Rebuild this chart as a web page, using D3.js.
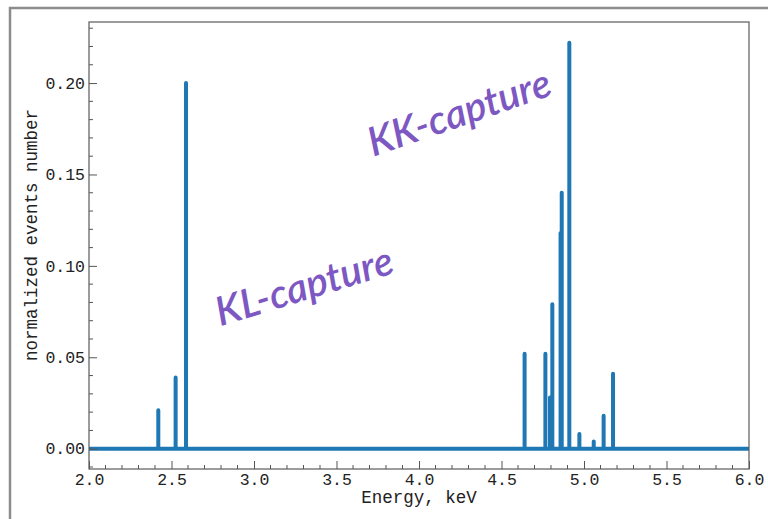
<!DOCTYPE html>
<html><head><meta charset="utf-8">
<script src="https://cdn.jsdelivr.net/npm/d3@7"></script>
<style>body{margin:0;background:#fff} svg{display:block}</style>
</head><body>
<svg id="c" width="768" height="519"></svg>
<script>
// ---- data ----
const peakEnergies = [2.420, 2.525, 2.588, 4.640, 4.766, 4.794, 4.808, 4.858, 4.865, 4.911, 4.972, 5.059, 5.119, 5.176];
const peakHeights  = [0.021, 0.039, 0.200, 0.052, 0.052, 0.028, 0.079, 0.118, 0.140, 0.222, 0.008, 0.004, 0.018, 0.041];
const xTicks = [2.0, 2.5, 3.0, 3.5, 4.0, 4.5, 5.0, 5.5, 6.0];
const xTickLabels = ["2.0","2.5","3.0","3.5","4.0","4.5","5.0","5.5","6.0"];
const yTicks = [0.00, 0.05, 0.10, 0.15, 0.20];
const yTickLabels = ["0.00","0.05","0.10","0.15","0.20"];
const xDomain = [2.0, 6.0];
const yDomain = [-0.0111, 0.2334];
const annotations = [
  {text: "KL-capture", x: 3.31, y: 0.087, rot: -17},
  {text: "KK-capture", x: 4.25, y: 0.182, rot: -19}
];

// ---- layout ----
const svg = d3.select("#c");
const L = 89, R = 749, T = 22, B = 469;
const x = d3.scaleLinear().domain(xDomain).range([L, R]);
const y = d3.scaleLinear().domain(yDomain).range([B, T]);
const mono = "'Liberation Mono','Courier New',monospace";

// outer frame
svg.append("rect").attr("x", 10).attr("y", 8).attr("width", 780).attr("height", 540)
  .attr("fill", "none").attr("stroke", "#8c8c8c").attr("stroke-width", 2.5);

svg.append("clipPath").attr("id", "clip").append("rect")
  .attr("x", L).attr("y", T).attr("width", R - L).attr("height", B - T);

// spectrum path
const pts = [[xDomain[0] - 0.1, 0]];
peakEnergies.forEach((e, i) => { pts.push([e, 0], [e, peakHeights[i]], [e, 0]); });
pts.push([xDomain[1] + 0.1, 0]);
const line = d3.line().x(d => x(d[0])).y(d => y(d[1]));
svg.append("path").attr("clip-path", "url(#clip)")
  .attr("d", line(pts)).attr("fill", "none")
  .attr("stroke", "#1f77b4").attr("stroke-width", 4)
  .attr("stroke-linejoin", "round").attr("stroke-linecap", "butt");

// axes (ticks inward)
const xAxis = d3.axisBottom(x).tickValues(xTicks).tickFormat((d, i) => xTickLabels[i]).tickSizeInner(-8).tickSizeOuter(0).tickPadding(4);
const gx = svg.append("g").attr("transform", `translate(0,${B})`).call(xAxis);
const xMinor = d3.range(20, 61).map(v => v / 10).filter(v => !xTicks.some(t => Math.abs(t - v) < 1e-9));
gx.selectAll(".minor").data(xMinor).enter().append("line")
  .attr("x1", d => x(d)).attr("x2", d => x(d)).attr("y1", 0).attr("y2", -4)
  .attr("stroke", "#555").attr("stroke-width", 1);

const yAxis = d3.axisLeft(y).tickValues(yTicks).tickFormat((d, i) => yTickLabels[i]).tickSizeInner(-8).tickSizeOuter(0).tickPadding(4);
const gy = svg.append("g").attr("transform", `translate(${L},0)`).call(yAxis);
const yMinor = d3.range(-1, 24).map(v => v / 100).filter(v => !yTicks.some(t => Math.abs(t - v) < 1e-9));
gy.selectAll(".minor").data(yMinor).enter().append("line")
  .attr("y1", d => y(d)).attr("y2", d => y(d)).attr("x1", 0).attr("x2", 4)
  .attr("stroke", "#555").attr("stroke-width", 1);

[gx, gy].forEach(g => {
  g.select(".domain").remove();
  g.selectAll(".tick line").attr("stroke", "#555");
  g.selectAll(".tick text").attr("font-family", mono).attr("font-size", 16.5).attr("fill", "#222");
});

// frame
svg.append("rect").attr("x", L).attr("y", T).attr("width", R - L).attr("height", B - T)
  .attr("fill", "none").attr("stroke", "#5a5a5a").attr("stroke-width", 1.2);

// axis labels
svg.append("text").attr("x", (L + R) / 2).attr("y", 503).attr("text-anchor", "middle")
  .attr("font-family", mono).attr("font-size", 17.5).attr("fill", "#222").text("Energy, keV");
svg.append("text").attr("transform", `translate(37,235) rotate(-90)`).attr("text-anchor", "middle")
  .attr("font-family", mono).attr("font-size", 17.5).attr("fill", "#222").text("normalized events number");

// annotations
annotations.forEach(a => {
  svg.append("text").attr("transform", `translate(${x(a.x)},${y(a.y)}) rotate(${a.rot})`)
    .attr("text-anchor", "middle").attr("dominant-baseline", "middle")
    .attr("font-family", "Lato, 'Noto Sans', sans-serif").attr("font-style", "italic").attr("font-weight", 600)
    .attr("font-size", 40).attr("fill", "#7d57c2").text(a.text);
});
</script>
</body></html>
